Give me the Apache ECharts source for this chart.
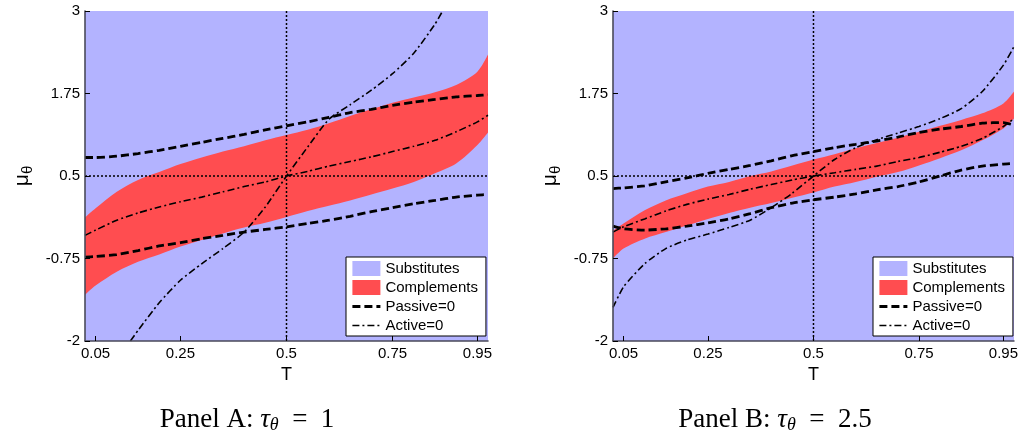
<!DOCTYPE html>
<html><head><meta charset="utf-8">
<script src="https://cdn.jsdelivr.net/npm/echarts@6/dist/echarts.min.js"></script>
<style>html,body{margin:0;padding:0;background:#fff}#c{width:1021px;height:436px}</style>
</head><body><div id="c"></div>
<script>
// ---- data ----
const T = [0.025, 0.05, 0.1, 0.15, 0.2, 0.25, 0.3, 0.35, 0.4, 0.45, 0.5, 0.55, 0.6, 0.65, 0.7, 0.75, 0.8, 0.85, 0.9, 0.95, 0.975];
const xTicks = [0.05, 0.25, 0.5, 0.75, 0.95];
const yTicks = [-2, -0.75, 0.5, 1.75, 3];
const xRange = [0.025, 0.975];
const yRange = [-2, 3];
const refX = [0.5];
const refY = [0.5];

// Panel A (tau_theta = 1)
const A_compUpper = [-0.13, 0.01, 0.26, 0.44, 0.56, 0.68, 0.78, 0.87, 0.95, 1.04, 1.12, 1.2, 1.3, 1.41, 1.51, 1.61, 1.69, 1.77, 1.88, 2.08, 2.34];
const A_compLower = [-1.3, -1.16, -0.95, -0.8, -0.69, -0.57, -0.47, -0.37, -0.28, -0.21, -0.12, -0.03, 0.05, 0.13, 0.22, 0.31, 0.41, 0.54, 0.69, 0.97, 1.16];
const A_passiveUpper = [0.78, 0.78, 0.8, 0.84, 0.89, 0.95, 1.01, 1.07, 1.13, 1.2, 1.26, 1.32, 1.39, 1.46, 1.51, 1.57, 1.62, 1.66, 1.7, 1.72, 1.73];
const A_passiveLower = [-0.73, -0.72, -0.69, -0.63, -0.56, -0.51, -0.45, -0.4, -0.35, -0.31, -0.27, -0.22, -0.17, -0.11, -0.04, 0.02, 0.08, 0.13, 0.18, 0.21, 0.22];
const A_activeMid = [-0.4, -0.32, -0.17, -0.06, 0.03, 0.11, 0.18, 0.26, 0.34, 0.41, 0.5, 0.57, 0.65, 0.72, 0.79, 0.87, 0.95, 1.04, 1.17, 1.32, 1.42];
const A_steepT = [0.132, 0.15, 0.2, 0.25, 0.3, 0.35, 0.4, 0.45, 0.5, 0.55, 0.6, 0.65, 0.7, 0.75, 0.8, 0.85, 0.868];
const A_activeSteep = [-2.0, -1.84, -1.42, -1.08, -0.83, -0.6, -0.35, 0.03, 0.5, 0.94, 1.36, 1.58, 1.8, 2.05, 2.36, 2.8, 3.0];

// Panel B (tau_theta = 2.5)
const B_compUpper = [-0.33, -0.22, -0.02, 0.13, 0.24, 0.34, 0.41, 0.5, 0.57, 0.66, 0.75, 0.83, 0.92, 1.0, 1.08, 1.17, 1.26, 1.35, 1.45, 1.6, 1.78];
const B_compLower = [-0.75, -0.6, -0.45, -0.35, -0.25, -0.15, -0.06, 0.02, 0.09, 0.17, 0.25, 0.34, 0.41, 0.49, 0.56, 0.66, 0.77, 0.89, 1.04, 1.22, 1.37];
const B_passiveUpper = [0.31, 0.32, 0.35, 0.41, 0.47, 0.54, 0.6, 0.66, 0.73, 0.81, 0.87, 0.93, 0.98, 1.03, 1.09, 1.16, 1.21, 1.25, 1.3, 1.31, 1.27];
const B_passiveLower = [-0.26, -0.3, -0.32, -0.3, -0.26, -0.21, -0.15, -0.07, 0.02, 0.09, 0.14, 0.18, 0.23, 0.29, 0.34, 0.41, 0.5, 0.59, 0.65, 0.68, 0.69];
const B_activeMid = [-0.35, -0.27, -0.15, -0.03, 0.07, 0.15, 0.22, 0.3, 0.37, 0.44, 0.5, 0.55, 0.6, 0.65, 0.72, 0.78, 0.86, 0.95, 1.07, 1.25, 1.37];
const B_activeSteep = [-1.49, -1.18, -0.83, -0.6, -0.47, -0.38, -0.28, -0.17, 0.02, 0.24, 0.5, 0.75, 0.93, 1.05, 1.15, 1.25, 1.37, 1.52, 1.78, 2.18, 2.46];

// ---- styles ----
const LAV = '#b3b3ff';
const RED = '#ff4d50';
const SANS = 'Liberation Sans';
const SERIF = 'Liberation Serif';

const pairs = (xs, ys) => xs.map((x, i) => [x, ys[i]]);

function panelSeries(gi, p) {
  const base = {xAxisIndex: gi, yAxisIndex: gi, symbol: 'none', showSymbol: false, silent: true, animation: false};
  const passiveStyle = {color: '#000', width: 2.8, type: [8, 4]};
  const activeStyle = {color: '#000', width: 1.6, type: [7, 3, 2, 3]};
  const refStyle = {color: '#000', width: 1.5, type: [2, 2]};
  return [
    Object.assign({}, base, {
      name: 'Substitutes', type: 'line', z: 1,
      data: pairs(xRange, [yRange[1], yRange[1]]),
      color: LAV, itemStyle: {color: LAV},
      lineStyle: {width: 0, color: LAV},
      areaStyle: {color: LAV, opacity: 1, origin: 'start'}
    }),
    // complements region: filled from the upper boundary down ...
    Object.assign({}, base, {
      name: 'Complements', type: 'line', z: 2, smooth: 0.3,
      color: RED, itemStyle: {color: RED},
      data: pairs(T, p.up),
      lineStyle: {width: 0, opacity: 0, color: RED},
      areaStyle: {color: RED, opacity: 1, origin: 'start'}
    }),
    // ... and substitutes again below the lower boundary
    Object.assign({}, base, {
      name: 'subsBelow' + gi, type: 'line', z: 2, smooth: 0.3,
      color: LAV,
      data: pairs(T, p.lo),
      lineStyle: {width: 0, opacity: 0, color: LAV},
      areaStyle: {color: LAV, opacity: 1, origin: 'start'}
    }),
    Object.assign({}, base, {
      name: 'refV', type: 'line', z: 3,
      data: pairs([refX[0], refX[0]], yRange), lineStyle: refStyle
    }),
    Object.assign({}, base, {
      name: 'refH', type: 'line', z: 3,
      data: pairs(xRange, [refY[0], refY[0]]), lineStyle: refStyle
    }),
    Object.assign({}, base, {
      name: 'Passive=0', type: 'line', z: 4, smooth: 0.2,
      data: pairs(T, p.pu), lineStyle: passiveStyle, itemStyle: {color: '#000'}
    }),
    Object.assign({}, base, {
      name: 'Passive=0', type: 'line', z: 4, smooth: 0.2,
      data: pairs(T, p.pl), lineStyle: passiveStyle, itemStyle: {color: '#000'}
    }),
    Object.assign({}, base, {
      name: 'Active=0', type: 'line', z: 5, smooth: 0.2,
      data: pairs(T, p.am), lineStyle: activeStyle, itemStyle: {color: '#000'}
    }),
    Object.assign({}, base, {
      name: 'Active=0', type: 'line', z: 5, smooth: 0.2, clip: true,
      data: pairs(p.st, p.as), lineStyle: activeStyle, itemStyle: {color: '#000'}
    })
  ];
}

function xAxisFor(gi) {
  return {
    type: 'value', gridIndex: gi, min: xRange[0], max: xRange[1], z: 10,
    axisLine: {show: true, onZero: false, lineStyle: {color: '#4a4a5a', width: 1.6}},
    axisTick: {show: true, inside: true, length: 5, customValues: xTicks, lineStyle: {color: '#000', width: 1}},
    axisLabel: {customValues: xTicks, fontFamily: SANS, fontSize: 15, color: '#000', margin: 5},
    splitLine: {show: false},
    name: 'T', nameLocation: 'middle', nameGap: 17,
    nameTextStyle: {fontFamily: SANS, fontSize: 18, color: '#000'}
  };
}
function yAxisFor(gi) {
  return {
    type: 'value', gridIndex: gi, min: yRange[0], max: yRange[1], z: 10,
    axisLine: {show: true, onZero: false, lineStyle: {color: '#4a4a5a', width: 1.6}},
    axisTick: {show: true, inside: true, length: 5, customValues: yTicks, lineStyle: {color: '#000', width: 1}},
    axisLabel: {customValues: yTicks, fontFamily: SANS, fontSize: 15, color: '#000', margin: 5},
    splitLine: {show: false},
    name: '{m|μ}{s|θ}', nameLocation: 'middle', nameRotate: 90, nameGap: 50,
    nameTextStyle: {color: '#000', rich: {
      m: {fontFamily: SANS, fontSize: 21, color: '#000'},
      s: {fontFamily: SANS, fontSize: 15, color: '#000', padding: [11, 0, 0, 0]}
    }}
  };
}
function legendFor(left) {
  const hideSym = {opacity: 0, borderWidth: 0};
  return {
    left: left, top: 257, orient: 'vertical', selectedMode: false,
    data: [
      {name: 'Substitutes', icon: 'rect'},
      {name: 'Complements', icon: 'rect'},
      {name: 'Passive=0', itemStyle: hideSym},
      {name: 'Active=0', itemStyle: hideSym}
    ],
    itemWidth: 28, itemHeight: 15, itemGap: 4, padding: [4, 8, 3, 5],
    backgroundColor: '#fff', borderColor: '#000', borderWidth: 1, borderRadius: 0,
    lineStyle: {width: 'inherit'},
    textStyle: {fontFamily: SANS, fontSize: 15, color: '#000'}
  };
}
function titleText(x, panel, val) {
  return {
    type: 'text', x: x, y: 420, silent: true,
    style: {
      text: '{n|Panel ' + panel + ': }{i|τ}{s|θ}{n|  =  ' + val + '}',
      align: 'center', verticalAlign: 'middle',
      rich: {
        n: {fontFamily: SERIF, fontSize: 27, fill: '#000'},
        i: {fontFamily: SERIF, fontSize: 27, fontStyle: 'italic', fill: '#000'},
        s: {fontFamily: SERIF, fontSize: 18, fontStyle: 'italic', fill: '#000', padding: [10, 0, 0, 0]}
      }
    }
  };
}

const chart = echarts.init(document.getElementById('c'), null, {renderer: 'canvas'});
chart.setOption({
  animation: false,
  backgroundColor: '#fff',
  grid: [
    {left: 85, top: 11, width: 403, height: 330, containLabel: false},
    {left: 613, top: 11, width: 403, height: 330, containLabel: false}
  ],
  xAxis: [xAxisFor(0), xAxisFor(1)],
  yAxis: [yAxisFor(0), yAxisFor(1)],
  legend: [legendFor(346), legendFor(873)],
  graphic: [titleText(247, 'A', '1'), titleText(775, 'B', '2.5')],
  series: [].concat(
    panelSeries(0, {up: A_compUpper, lo: A_compLower, pu: A_passiveUpper, pl: A_passiveLower, am: A_activeMid, st: A_steepT, as: A_activeSteep}),
    panelSeries(1, {up: B_compUpper, lo: B_compLower, pu: B_passiveUpper, pl: B_passiveLower, am: B_activeMid, st: T, as: B_activeSteep})
  )
});
</script>
</body></html>
